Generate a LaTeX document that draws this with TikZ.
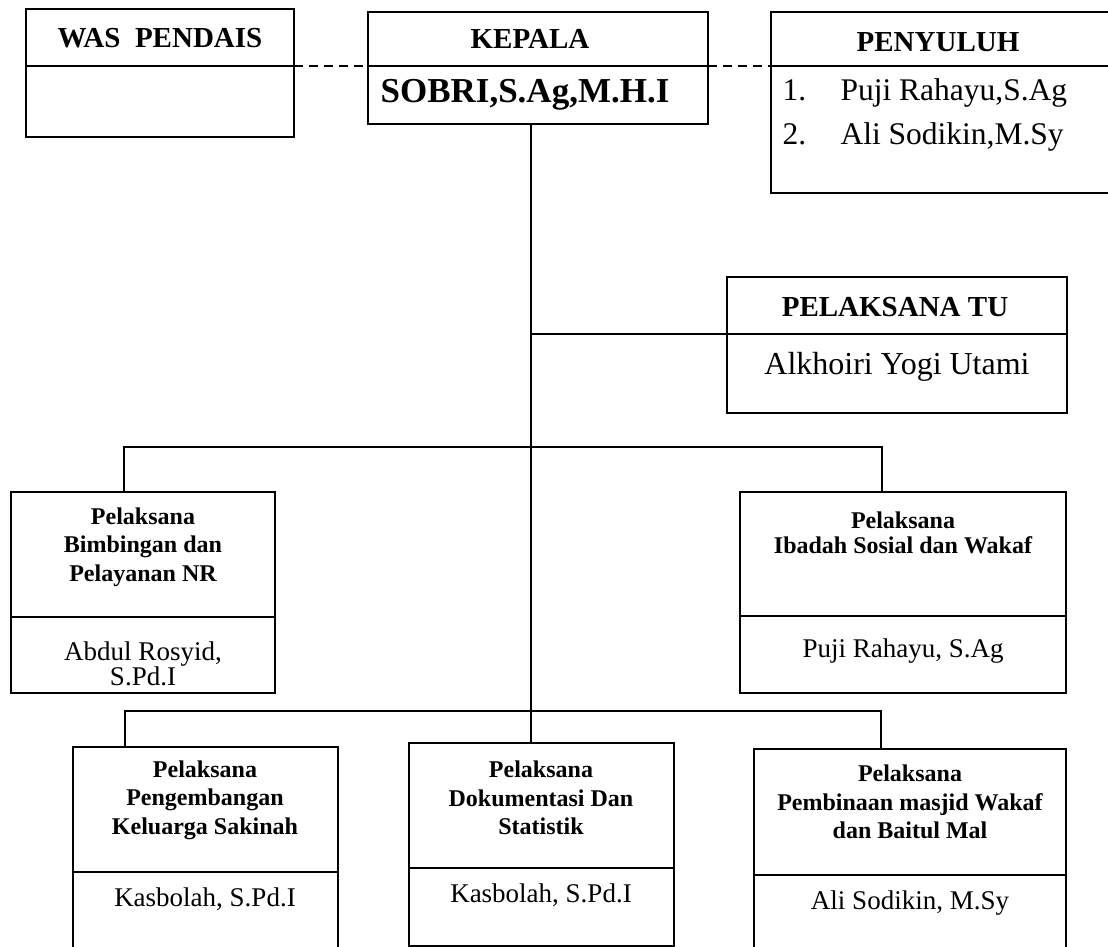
\documentclass[tikz,border=0pt]{standalone}
\usepackage{fontspec}
\setmainfont{Liberation Serif}
\usetikzlibrary{positioning}

\tikzset{
  frame/.style={draw, line width=1.7pt, anchor=north west, inner sep=0pt, outer sep=0pt},
  link/.style={line width=1.5pt},
  dotlink/.style={line width=1.5pt, dash pattern=on 9pt off 6pt},
  head/.style={font=\fontsize{29}{34}\selectfont\bfseries},
  boss/.style={font=\fontsize{35}{38}\selectfont\bfseries},
  lbl/.style={align=center, font=\fontsize{24}{28.5}\selectfont\bfseries},
  who/.style={align=center, font=\fontsize{27}{25}\selectfont},
  item/.style={anchor=west, font=\fontsize{31.5}{34}\selectfont}
}

\begin{document}
\begin{tikzpicture}[x=1pt, y=-1pt]
    % page
    \fill[white] (0,0) rectangle (1108,947);
    \useasboundingbox (0,0) rectangle (1108,947);
    \clip (0,0) rectangle (1108,947);

    % boxes: name/x/y/width/head height/body height
    \foreach \nm/\x/\y/\w/\ha/\hb in {was/26/9/268/57/71, kep/368/12/340/54/58,
        pen/771/12/360/54/127, tu/727/277/340/57/79, bim/11/492/264/125/76,
        iba/740/492/326/124/77, kel/73/747/265/125/90, dok/409/743/265/125/78,
        pem/754/749/312/126/90} {
      \node[frame, minimum width=\w pt, minimum height=\ha pt] (\nm-h) at (\x,\y) {};
      \node[frame, minimum width=\w pt, minimum height=\hb pt] (\nm-b) at (\nm-h.south west) {};
    }

    % top row
    \node[head] (wasT) at (160,38) {WAS\ \ PENDAIS};
    \node[head] (kepT) at (530,39) {KEPALA};
    \node[boss] (kepN) at (525,95) {SOBRI,S.Ag,M.H.I};
    \node[head] (penT) at (938,42) {PENYULUH};
    \node[item] (pen1) at (779,93) {\makebox[58pt][l]{1.}Puji Rahayu,S.Ag};
    \node[item] (pen2) at (779,137) {\makebox[58pt][l]{2.}Ali Sodikin,M.Sy};

    % tata usaha
    \node[head] (tuT) at (895,307) {PELAKSANA TU};
    \node[font=\fontsize{32}{34}\selectfont] (tuN) at (897,367) {Alkhoiri Yogi Utami};

    % middle row
    \node[lbl] (bimT) at (143,547) {Pelaksana\\Bimbingan dan\\Pelayanan NR};
    \node[who] (bimN) at (143,664) {Abdul Rosyid,\\S.Pd.I};
    \node[lbl, font=\fontsize{24}{25}\selectfont\bfseries] (ibaT) at (903,533) {Pelaksana\\Ibadah Sosial dan Wakaf};
    \node[who] (ibaN) at (903,651) {Puji Rahayu, S.Ag};

    % bottom row
    \node[lbl] (kelT) at (205,800) {Pelaksana\\Pengembangan\\Keluarga Sakinah};
    \node[who] (kelN) at (205,899) {Kasbolah, S.Pd.I};
    \node[lbl] (dokT) at (541,798) {Pelaksana\\Dokumentasi Dan\\Statistik};
    \node[who] (dokN) at (541,895) {Kasbolah, S.Pd.I};
    \node[lbl] (pemT) at (910,802) {Pelaksana\\Pembinaan masjid Wakaf\\dan Baitul Mal};
    \node[who] (pemN) at (910,903) {Ali Sodikin, M.Sy};

    % dashed lines to the side boxes
    \draw[dotlink] (was-h.south east) -- (kep-h.south west);
    \draw[dotlink] (kep-h.south east) -- (pen-h.south west);

    % main line
    \coordinate (stem) at (531,0);
    \draw[link] (stem |- kep-b.south) -- (stem |- dok-h.north);
    \draw[link] (stem |- tu-h.south west) -- (tu-h.south west);

    % branches
    \coordinate (l1) at (124,447);
    \coordinate (r1) at (882,447);
    \draw[link] (l1 |- bim-h.north) -- (l1) -- (r1) -- (r1 |- iba-h.north);
    \coordinate (l2) at (125,711);
    \coordinate (r2) at (881,711);
    \draw[link] (l2 |- kel-h.north) -- (l2) -- (r2) -- (r2 |- pem-h.north);
\end{tikzpicture}
\end{document}
